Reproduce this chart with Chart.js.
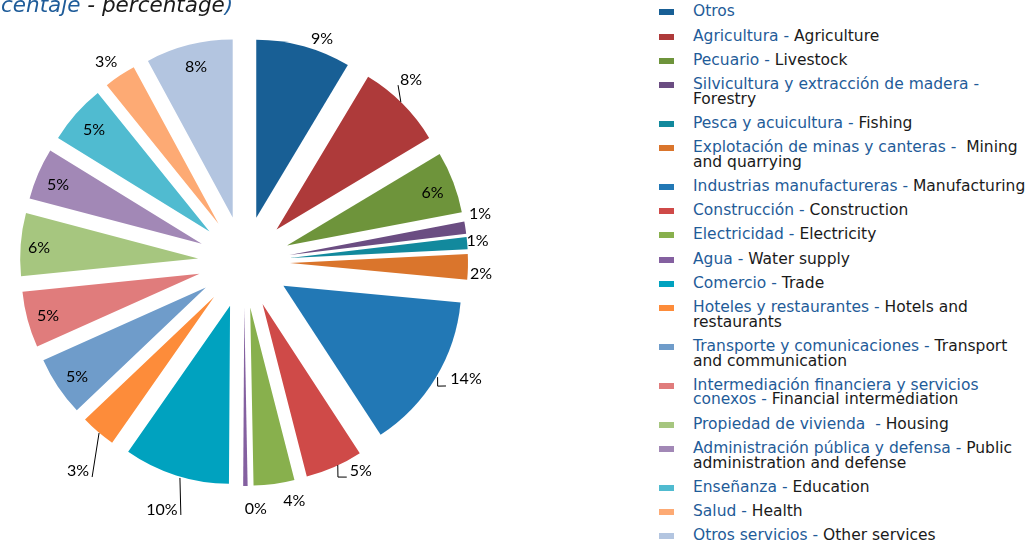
<!DOCTYPE html>
<html>
<head>
<meta charset="utf-8">
<script src="https://cdn.jsdelivr.net/npm/chart.js@4"></script>
<style>
    body { margin: 0; background: #fff; }
    #wrap { position: relative; width: 1026px; height: 547px; overflow: hidden; }
    #pie { position: absolute; left: 0; top: 0; width: 500px; height: 547px; }
    #title { position: absolute; left: 1px; top: -8px; font: italic 21.5px "DejaVu Sans"; color: #1a1a1a; white-space: pre; }
    .es { color: #1f5c99; }
    #legend { position: absolute; left: 659px; top: 4.3px; margin: 0; padding: 0; list-style: none;
              font: 15.5px "DejaVu Sans"; line-height: 14.7px; color: #1a1a1a; }
    #legend li { position: relative; padding-left: 34px; margin-bottom: 9.5px; white-space: pre; }
    #legend .sw { position: absolute; left: 0; top: 5px; width: 15px; height: 6px; }
</style>
</head>
<body>
<div id="wrap">
    <div id="pie"><canvas id="chart"></canvas></div>
    <div id="title"><span class="es">centaje</span> - percentage<span class="es">)</span></div>
    <ul id="legend"></ul>
</div>
<script>
// sectores (español / inglés) y participación en porcentaje
var esLabels = ['Otros', 'Agricultura', 'Pecuario', 'Silvicultura y extracción de madera', 'Pesca y acuicultura',
    'Explotación de minas y canteras', 'Industrias manufactureras', 'Construcción', 'Electricidad', 'Agua',
    'Comercio', 'Hoteles y restaurantes', 'Transporte y comunicaciones', 'Intermediación financiera y servicios\nconexos',
    'Propiedad de vivienda ', 'Administración pública y defensa', 'Enseñanza', 'Salud', 'Otros servicios'];
var enLabels = ['', 'Agriculture', 'Livestock', '\nForestry', 'Fishing',
    ' Mining\nand quarrying', 'Manufacturing', 'Construction', 'Electricity', 'Water supply',
    'Trade', 'Hotels and\nrestaurants', 'Transport\nand communication', 'Financial intermediation',
    'Housing', 'Public\nadministration and defense', 'Education', 'Health', 'Other services'];
var values = [8.6, 7.8, 5.6, 1.1, 1.1, 2.3, 14.3, 5.2, 3.7, 0.4, 9.6, 3.2, 5.4, 5.1, 5.7, 4.7, 5.4, 2.9, 7.9];

var colors = ['#185f95', '#ae3a3a', '#6e943b', '#6b4d82', '#12899d', '#da752c', '#2278b5', '#cf4a48', '#88b04d',
    '#8460a0', '#00a2bf', '#fd8c3a', '#6f9cca', '#e07c7c', '#a6c67f', '#a288b6', '#50bbd0', '#fdaa74', '#b3c5e0'];

var EXPLODE = 46;

// posicion de cada etiqueta: [radio relativo, giro en grados respecto a la bisectriz]
var labelPlacement = [[1.07, 4.7], [1.13, -3], [0.87, 1], [1.095, -3.3], [1.059, -0.3], [1.075, 2],
    [1.152, -4.1], [1.088, -6.7], [1.114, -5.1], [1.131, -2.9], [1.21, 0.8], [1.241, -2.7],
    [0.881, -1], [0.884, -0.7], [0.896, -0.8], [0.872, -0.9], [0.864, -0.1], [1.107, -1.1], [0.87, 0.5]];
// lineas guia (mismo sistema polar)
var leaderLines = {
    1: [[1.0, -0.7], [1.06, -4.9]],
    6: [[1.007, -0.5], [1.034, 1.9], [1.073, 0.5]],
    7: [[0.998, -1.3], [1.06, 0.2], [1.081, -2.2]],
    10: [[1.007, -1.4], [1.207, -4.4]],
    11: [[1.001, -0.5], [1.222, -6.6]]
};

// separa cada rebanada hacia afuera sobre su bisectriz
var explodePlugin = {
    id: 'explode',
    beforeDatasetDraw: function (chart, args) {
        args.meta.data.forEach(function (arc) {
            if (arc._exploded) return;
            var base = arc.draw;
            arc.draw = function (ctx, area) {
                var mid = (this.startAngle + this.endAngle) / 2;
                ctx.save();
                ctx.translate(Math.cos(mid) * EXPLODE, Math.sin(mid) * EXPLODE);
                base.call(this, ctx, area);
                ctx.restore();
            };
            arc._exploded = true;
        });
    }
};

var labelPlugin = {
    id: 'sliceLabels',
    afterDatasetsDraw: function (chart) {
        var ctx = chart.ctx;
        var meta = chart.getDatasetMeta(0);
        ctx.save();
        ctx.font = '16px Lato';
        ctx.fillStyle = '#000';
        ctx.strokeStyle = '#000';
        ctx.lineWidth = 1;
        ctx.textAlign = 'center';
        ctx.textBaseline = 'middle';
        meta.data.forEach(function (arc, i) {
            var mid = (arc.startAngle + arc.endAngle) / 2;
            var cx = arc.x + Math.cos(mid) * EXPLODE;
            var cy = arc.y + Math.sin(mid) * EXPLODE;
            var r = arc.outerRadius;
            function pt(p) {
                var a = mid + p[1] * Math.PI / 180;
                return [cx + Math.cos(a) * p[0] * r, cy + Math.sin(a) * p[0] * r];
            }
            var lp = pt(labelPlacement[i]);
            ctx.fillText(Math.round(values[i]) + '%', lp[0], lp[1]);
            var line = leaderLines[i];
            if (line) {
                ctx.beginPath();
                line.forEach(function (p, k) {
                    var q = pt(p);
                    if (k === 0) ctx.moveTo(q[0], q[1]); else ctx.lineTo(q[0], q[1]);
                });
                ctx.stroke();
            }
        });
        ctx.restore();
    }
};

new Chart(document.getElementById('chart'), {
    type: 'pie',
    data: {
        labels: esLabels,
        datasets: [{
            data: values,
            backgroundColor: colors,
            borderWidth: 0,
            radius: 178
        }]
    },
    options: {
        responsive: true,
        maintainAspectRatio: false,
        animation: false,
        layout: { padding: { left: 0, right: 12, top: 0, bottom: 23 } },
        plugins: { legend: { display: false }, tooltip: { enabled: false } }
    },
    plugins: [explodePlugin, labelPlugin]
});

// leyenda bilingue
var legend = document.getElementById('legend');
esLabels.forEach(function (es, i) {
    var li = document.createElement('li');
    var sw = document.createElement('span');
    sw.className = 'sw';
    sw.style.background = colors[i];
    li.appendChild(sw);
    var s = document.createElement('span');
    s.className = 'es';
    s.textContent = es + (enLabels[i] ? ' - ' : '');
    li.appendChild(s);
    if (enLabels[i]) li.appendChild(document.createTextNode(enLabels[i]));
    legend.appendChild(li);
});
</script>
</body>
</html>
